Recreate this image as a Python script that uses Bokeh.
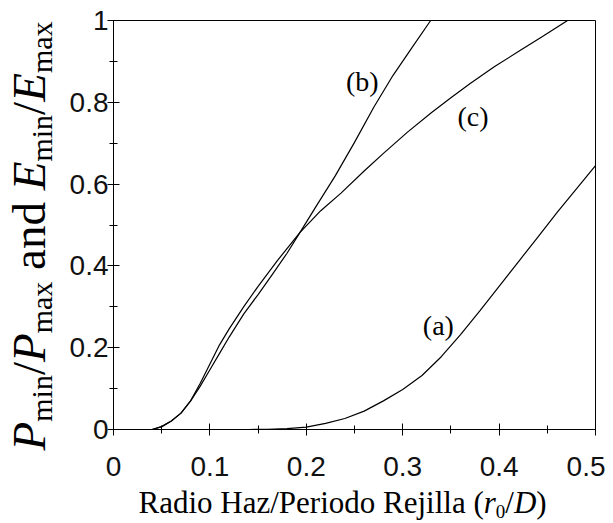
from math import pi
from bokeh.plotting import figure
from bokeh.models import Range1d, FixedTicker, NumeralTickFormatter, ColumnDataSource
from bokeh.core.properties import value
from bokeh.embed import file_html
from bokeh.resources import INLINE

# ---- data ----
a_x = [0.140, 0.160, 0.180, 0.200, 0.220, 0.240, 0.260, 0.280, 0.300, 0.320,
       0.340, 0.360, 0.380, 0.400, 0.420, 0.440, 0.460, 0.480, 0.500]
a_y = [0.000, 0.0005, 0.002, 0.006, 0.015, 0.027, 0.045, 0.070, 0.098, 0.132,
       0.178, 0.232, 0.290, 0.350, 0.410, 0.470, 0.530, 0.588, 0.645]

b_x = [0.040, 0.050, 0.060, 0.070, 0.080, 0.090, 0.100, 0.110, 0.120, 0.135,
       0.150, 0.165, 0.180, 0.1935, 0.210, 0.230, 0.250, 0.270, 0.290, 0.310, 0.329]
b_y = [0.000, 0.007, 0.021, 0.040, 0.070, 0.106, 0.146, 0.186, 0.226, 0.282,
       0.330, 0.380, 0.431, 0.482, 0.545, 0.620, 0.702, 0.788, 0.866, 0.935, 1.000]

c_x = [0.040, 0.050, 0.060, 0.070, 0.080, 0.090, 0.100, 0.110, 0.120, 0.135,
       0.150, 0.170, 0.1935, 0.215, 0.236, 0.260, 0.280, 0.305, 0.330, 0.350,
       0.370, 0.395, 0.420, 0.445, 0.471]
c_y = [0.000, 0.007, 0.021, 0.040, 0.070, 0.113, 0.160, 0.207, 0.246, 0.300,
       0.350, 0.413, 0.482, 0.535, 0.578, 0.632, 0.675, 0.727, 0.775, 0.811,
       0.846, 0.887, 0.924, 0.961, 1.000]

curve_labels = ["(a)", "(b)", "(c)"]
curve_label_x = [0.337, 0.258, 0.373]
curve_label_y = [0.254, 0.851, 0.765]

x_ticks = [0, 0.1, 0.2, 0.3, 0.4, 0.5]
x_minor = [0.05, 0.15, 0.25, 0.35, 0.45]
y_ticks = [0, 0.2, 0.4, 0.6, 0.8, 1.0]
y_minor = [0.1, 0.3, 0.5, 0.7, 0.9]

# ---- figure ----
W, H = 605, 523
BL, BT = 113, 20
FW, FH = 482, 409
BR, BB = W - BL - FW, H - BT - FH

p = figure(width=W, height=H, x_range=Range1d(0, 0.5), y_range=Range1d(0, 1),
           output_backend="svg", toolbar_location=None,
           min_border_left=BL, min_border_right=BR, min_border_top=BT, min_border_bottom=BB)
p.grid.visible = False
p.outline_line_color = "black"
p.outline_line_width = 1
p.background_fill_color = "white"
p.border_fill_color = "white"

for ax, tk, mn in ((p.xaxis[0], x_ticks, x_minor), (p.yaxis[0], y_ticks, y_minor)):
    ax.ticker = FixedTicker(ticks=tk, minor_ticks=mn)
    ax.formatter = NumeralTickFormatter(format="0.[0]")
    ax.axis_line_color = "black"
    ax.major_tick_line_color = "black"
    ax.minor_tick_line_color = "black"
    ax.major_tick_in = 6
    ax.major_tick_out = 6
    ax.minor_tick_in = 4
    ax.minor_tick_out = 4
    ax.major_label_text_font = "Liberation Sans"
    ax.major_label_text_font_size = "28px"
    ax.major_label_text_color = "#111111"
    ax.axis_label = None
p.xaxis.major_label_standoff = 21
p.yaxis.major_label_standoff = -1

for xs, ys in ((a_x, a_y), (b_x, b_y), (c_x, c_y)):
    p.line(xs, ys, line_color="black", line_width=1.2)

src = ColumnDataSource(dict(x=curve_label_x, y=curve_label_y, t=curve_labels))
p.text(x="x", y="y", text="t", source=src, text_font=value("Liberation Serif"),
       text_font_size="28px", text_align="center", text_baseline="middle", text_color="black")

# ---- composite axis titles (pieces of real text, drawn unclipped) ----
XPX = 0.5 / FW
YPX = 1.0 / FH
ROMAN = {'P': 556, 'E': 611, '/': 278, 'm': 778, 'i': 278, 'n': 500, 'a': 444, 'x': 500,
         'd': 500, ' ': 250, 'R': 667, 'o': 500, 'H': 722, 'z': 444, 'e': 444, 'r': 333,
         'j': 278, 'l': 278, '(': 333, ')': 333, '0': 500, 'D': 722}
ITALIC = {'P': 611, 'E': 611, 'r': 389, 'D': 722}
BASE_COMP = 0.34   # empirical shift of the alphabetic anchor, in em


def tw(text, size, italic):
    tab = ITALIC if italic else ROMAN
    return sum(tab.get(ch, ROMAN.get(ch, 500)) for ch in text) * size / 1000.0


def piece(text, xpx, ypx, size, italic, angle):
    p.text(x=[xpx * XPX], y=[ypx * YPX], text=[text],
           text_font=value("Liberation Serif"),
           text_font_style=value("italic" if italic else "normal"),
           text_font_size=value(f"{size}px"), angle=angle,
           text_align="left", text_baseline="alphabetic",
           text_color="black", level="overlay")


# y title: P_min/P_max and E_min/E_max (rotated, reading upwards)
MAIN, SUB, SHIFT = 47, 30, 7
SP = 250 * MAIN / 1000.0
y_parts = [("P", MAIN, True, 0, 0), ("min", SUB, False, SHIFT, 0), ("/", MAIN, False, 0, 0),
           ("P", MAIN, True, 0, 0), ("max", SUB, False, SHIFT, 0), ("and", MAIN, False, 0, SP),
           ("E", MAIN, True, 0, SP), ("min", SUB, False, SHIFT, 0), ("/", MAIN, False, 0, 0),
           ("E", MAIN, True, 0, 0), ("max", SUB, False, SHIFT, 0)]
base_x = 44 - BL          # desired baseline, px from frame left
pos = -21                 # start, px above frame bottom
for txt, sz, it, sh, pre in y_parts:
    pos += pre
    piece(txt, base_x + sh - BASE_COMP * sz, pos, sz, it, pi / 2)
    pos += tw(txt, sz, it)

# x title: Radio Haz/Periodo Rejilla (r0/D)
XM, XS = 31, 19
x_parts = [("Radio Haz/Periodo Rejilla (", XM, False, 0), ("r", XM, True, 0),
           ("0", XS, False, -4), ("/", XM, False, 0), ("D", XM, True, 0), (")", XM, False, 0)]
pos = 25
base_y = -(513 - (BT + FH))
for txt, sz, it, sh in x_parts:
    piece(txt, pos, base_y + sh + BASE_COMP * sz, sz, it, 0)
    pos += tw(txt, sz, it)

open("out.html", "w").write(file_html(p, INLINE))
